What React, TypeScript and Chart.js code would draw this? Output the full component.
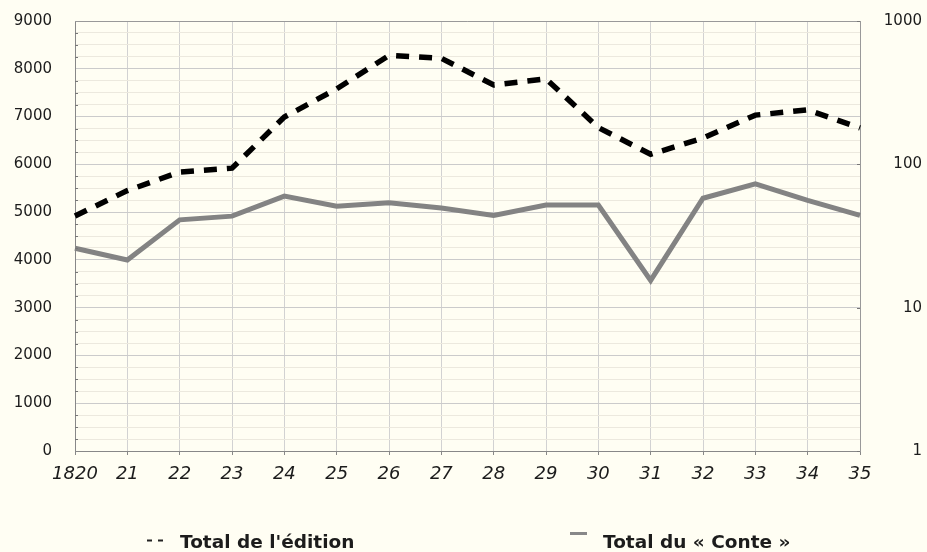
import React, { useEffect, useRef } from "react";
import { Chart, registerables } from "chart.js";

Chart.register(...registerables);

const years = ["1820", "21", "22", "23", "24", "25", "26", "27", "28", "29", "30", "31", "32", "33", "34", "35"];
const editionTotal = [4920, 5450, 5840, 5920, 6990, 7580, 8280, 8220, 7660, 7790, 6770, 6210, 6550, 7030, 7140, 6760];
const conteTotal = [26, 21.5, 41, 43.5, 60, 51, 54, 49.5, 44, 52, 52, 15.5, 58, 73, 56, 44];
const leftMajorTicks = [0, 1000, 2000, 3000, 4000, 5000, 6000, 7000, 8000, 9000];
const rightMajorTicks = [1, 10, 100, 1000];
const legendEdition = "Total de l'édition";
const legendConte = "Total du « Conte »";

const BG = "#fffef3";
const TEXT = "#1c1c1c";

export default function App() {
  const ref = useRef<HTMLCanvasElement | null>(null);

  useEffect(() => {
    const canvas = ref.current;
    if (!canvas) return;

    const decor = {
      id: "decor",
      beforeDraw(chart: any) {
        const ctx = chart.ctx;
        ctx.save();
        ctx.fillStyle = BG;
        ctx.fillRect(0, 0, chart.width, chart.height);
        ctx.restore();
      },
      afterDraw(chart: any) {
        const ctx = chart.ctx;
        const a = chart.chartArea;
        const y = chart.scales.y;
        const y1 = chart.scales.y1;
        ctx.save();
        ctx.strokeStyle = "#999";
        ctx.lineWidth = 1;
        ctx.beginPath();
        ctx.moveTo(a.left, Math.round(a.top) + 0.5);
        ctx.lineTo(a.right, Math.round(a.top) + 0.5);
        ctx.stroke();
        ctx.strokeStyle = "#777";
        for (let v = 250; v < 9000; v += 250) {
          if (v % 1000 === 0) continue;
          const py = Math.round(y.getPixelForValue(v)) + 0.5;
          ctx.beginPath();
          ctx.moveTo(a.left, py);
          ctx.lineTo(a.left + 3, py);
          ctx.stroke();
        }
        for (const v of rightMajorTicks) {
          const py = Math.round(y1.getPixelForValue(v)) + 0.5;
          ctx.beginPath();
          ctx.moveTo(a.right - 3, py);
          ctx.lineTo(a.right, py);
          ctx.stroke();
        }
        ctx.fillStyle = TEXT;
        ctx.font = "bold 18.5px 'DejaVu Sans'";
        ctx.textBaseline = "alphabetic";
        ctx.textAlign = "left";
        ctx.strokeStyle = "#222";
        ctx.lineWidth = 2;
        ctx.beginPath();
        ctx.moveTo(147, 540.5);
        ctx.lineTo(152, 540.5);
        ctx.moveTo(158, 540.5);
        ctx.lineTo(163, 540.5);
        ctx.stroke();
        ctx.fillText(legendEdition, 180, 548);
        ctx.strokeStyle = "#888";
        ctx.lineWidth = 3;
        ctx.beginPath();
        ctx.moveTo(570, 533.5);
        ctx.lineTo(587, 533.5);
        ctx.stroke();
        ctx.fillText(legendConte, 603, 548);
        ctx.restore();
      },
    };

    const chart = new Chart(canvas, {
      type: "line",
      data: {
        labels: years,
        datasets: [
          {
            label: legendEdition,
            data: editionTotal,
            yAxisID: "y",
            borderColor: "#000",
            borderWidth: 5.5,
            borderDash: [13, 10],
            pointRadius: 0,
            tension: 0,
            fill: false,
          },
          {
            label: legendConte,
            data: conteTotal,
            yAxisID: "y1",
            borderColor: "#838383",
            borderWidth: 5,
            pointRadius: 0,
            tension: 0,
            fill: false,
          },
        ],
      },
      options: {
        responsive: false,
        animation: false,
        devicePixelRatio: 1,
        layout: { padding: { top: 21, left: 0, right: 5, bottom: 0 } },
        plugins: {
          legend: { display: false },
          tooltip: { enabled: false },
        },
        scales: {
          x: {
            type: "category",
            offset: false,
            grid: {
              color: "#d2d2d2",
              lineWidth: 1,
              drawTicks: true,
              tickLength: 4,
              tickColor: "#888",
            },
            border: { color: "#888" },
            ticks: {
              padding: 9,
              color: TEXT,
              maxRotation: 0,
              autoSkip: false,
              font: { family: "'DejaVu Sans'", size: 18, style: "italic" },
            },
            afterFit(scale: any) {
              scale.height = 101;
            },
          },
          y: {
            type: "linear",
            position: "left",
            min: 0,
            max: 9000,
            grid: {
              drawTicks: true,
              tickLength: 23,
              tickColor: "rgba(0,0,0,0)",
              color: (c: any) => (c.tick && c.tick.value % 1000 === 0 ? "#cbcbcb" : "#ece9de"),
            },
            border: { color: "#888" },
            ticks: {
              stepSize: 250,
              autoSkip: false,
              padding: 0,
              color: TEXT,
              font: { family: "'DejaVu Sans'", size: 15 },
              callback: (v: any) => (leftMajorTicks.includes(Number(v)) ? String(v) : ""),
            },
            afterFit(scale: any) {
              scale.width = 75;
            },
          },
          y1: {
            type: "logarithmic",
            position: "right",
            min: 1,
            max: 1000,
            grid: { drawOnChartArea: false, drawTicks: false },
            border: { color: "#999" },
            ticks: {
              autoSkip: false,
              padding: 0,
              crossAlign: "far",
              color: TEXT,
              font: { family: "'DejaVu Sans'", size: 15 },
              callback: (v: any) => (rightMajorTicks.includes(Number(v)) ? String(v) : ""),
            },
            afterFit(scale: any) {
              scale.width = 62;
            },
          },
        },
      },
      plugins: [decor],
    } as any);

    return () => chart.destroy();
  }, []);

  return (
    <div style={{ position: "fixed", left: 0, top: 0, width: 927, height: 552, background: BG }}>
      <canvas ref={ref} width={927} height={552} style={{ display: "block" }} />
    </div>
  );
}
